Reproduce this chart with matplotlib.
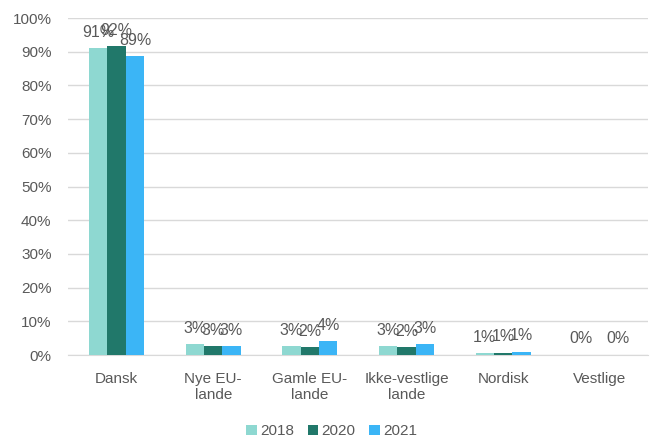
import matplotlib
matplotlib.use("Agg")
import matplotlib.pyplot as plt
import numpy as np

categories = ["Dansk", "Nye EU-\nlande", "Gamle EU-\nlande", "Ikke-vestlige\nlande", "Nordisk", "Vestlige"]
years = ["2018", "2020", "2021"]
v2018 = [0.910, 0.032, 0.026, 0.026, 0.006, 0.001]
v2020 = [0.917, 0.027, 0.024, 0.024, 0.007, np.nan]
v2021 = [0.887, 0.027, 0.042, 0.032, 0.010, 0.001]
series = [v2018, v2020, v2021]
colors = ["#8ed8d1", "#21786a", "#3bb5f6"]

plt.rcParams['font.family'] = ['Liberation Sans', 'DejaVu Sans']
txt = "#595959"

fig = plt.figure(figsize=(6.5, 4.41), dpi=100)
ax = fig.add_axes([0.105, 0.195, 0.892, 0.764])

x = np.arange(len(categories))
w = 0.19
for i, (vals, c, lab) in enumerate(zip(series, colors, years)):
    pos = x + (i - 1) * w
    ax.bar(pos, vals, width=w, color=c, label=lab, zorder=3)
    for p, v in zip(pos, vals):
        if np.isnan(v):
            continue
        ax.annotate(f"{v*100:.0f}%", (p, v), xytext=(0, 6), textcoords="offset points",
                    ha="center", va="bottom", fontsize=11.5, color=txt, zorder=4)

ax.set_ylim(0, 1.0)
ax.set_xlim(-0.5, len(categories) - 0.5)
ax.set_yticks(np.arange(0, 1.01, 0.1))
ax.set_yticklabels([f"{int(round(t*100))}%" for t in np.arange(0, 1.01, 0.1)])
ax.set_xticks(x)
ax.set_xticklabels(categories)
ax.yaxis.grid(True, color="#d9d9d9", linewidth=1, zorder=0)
ax.tick_params(axis="both", length=0, labelsize=11, colors=txt)
ax.tick_params(axis="y", pad=12)
ax.tick_params(axis="x", pad=12)
for s in ["top", "right", "left"]:
    ax.spines[s].set_visible(False)
ax.spines["bottom"].set_color("#d9d9d9")

fig.legend(loc="lower center", bbox_to_anchor=(0.51, -0.025), ncol=3, frameon=False,
           fontsize=11, labelcolor=txt, handlelength=0.7, handleheight=0.7,
           handletextpad=0.2, columnspacing=0.9)

fig.savefig("out.png", dpi=100)
